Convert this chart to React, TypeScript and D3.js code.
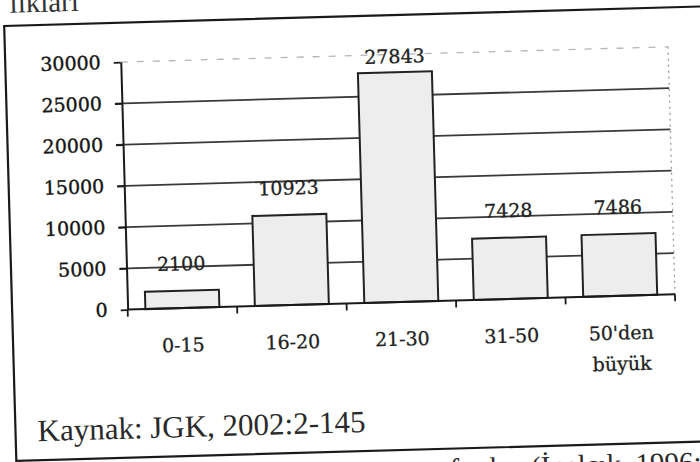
import React, { useEffect, useRef } from 'react';
import * as d3 from 'd3';

// values
const categories = ['0-15', '16-20', '21-30', '31-50', "50'den büyük"];
const counts = [2100, 10923, 27843, 7428, 7486];
const yTicks = [0, 5000, 10000, 15000, 20000, 25000, 30000];
const titleFragment = 'lıkları';
const sourceNote = 'Kaynak: JGK, 2002:2-145';
const nextLine = 'tarafından (İnalcık, 1996:';

const serif = "'DejaVu Serif', serif";
const times = "'Liberation Serif', 'Times New Roman', serif";

export default function App() {
  const ref = useRef<SVGSVGElement>(null);

  useEffect(() => {
    const svg = d3.select(ref.current);
    svg.selectAll('*').remove();

    // the scan is slightly tilted
    const page = svg.append('g').attr('transform', 'rotate(-1.6, 400, 300)');

    page.append('text')
      .attr('x', 18).attr('y', 2)
      .attr('font-family', times).attr('font-size', 29).attr('fill', '#333')
      .text(titleFragment);

    page.append('rect')
      .attr('x', 12).attr('y', 15).attr('width', 730).attr('height', 435)
      .attr('fill', 'none').attr('stroke', '#1a1a1a').attr('stroke-width', 2.2);

    const margin = { left: 127.5, top: 54.4 },
      width = 547.5,
      height = 247.6;

    const g = page.append('g').attr('transform', `translate(${margin.left}, ${margin.top})`);

    const x = d3.scaleBand().domain(categories).range([0, width]).paddingInner(0.324).paddingOuter(0.162);
    const y = d3.scaleLinear().domain([0, 30000]).range([height, 0]);

    // gridlines
    g.selectAll('.grid').data(yTicks.filter((t) => t > 0 && t < 30000)).enter().append('line')
      .attr('x1', -7).attr('x2', width)
      .attr('y1', (d) => y(d)).attr('y2', (d) => y(d))
      .attr('stroke', '#3a3a3a').attr('stroke-width', 1.8);

    // faint plot-area border
    g.append('line')
      .attr('x1', 0).attr('x2', width).attr('y1', y(30000)).attr('y2', y(30000))
      .attr('stroke', '#b5b5b5').attr('stroke-width', 1.3).attr('stroke-dasharray', '7,9');
    g.append('line')
      .attr('x1', width).attr('x2', width).attr('y1', y(30000)).attr('y2', height)
      .attr('stroke', '#999').attr('stroke-width', 1.3).attr('stroke-dasharray', '2,4');

    // bars
    g.selectAll('.bar').data(counts).enter().append('rect')
      .attr('x', (d, i) => x(categories[i]) as number)
      .attr('y', (d) => y(d))
      .attr('width', x.bandwidth())
      .attr('height', (d) => height - y(d))
      .attr('fill', '#ededed').attr('stroke', '#222').attr('stroke-width', 2);

    // value labels
    g.selectAll('.val').data(counts).enter().append('text')
      .attr('x', (d, i) => (x(categories[i]) as number) + x.bandwidth() / 2)
      .attr('y', (d) => Math.max(y(d) - 27, y(30000) + 2))
      .attr('dy', '0.35em')
      .attr('text-anchor', 'middle')
      .attr('font-family', serif).attr('font-size', 19).attr('fill', '#222')
      .attr('stroke', '#222').attr('stroke-width', 0.3)
      .text((d) => String(d));

    // y axis
    const yAxis = g.append('g').call(
      d3.axisLeft(y).tickValues(yTicks).tickSize(7).tickSizeOuter(0).tickPadding(13).tickFormat(d3.format('d'))
    );
    yAxis.select('.domain').attr('stroke', '#1a1a1a').attr('stroke-width', 2);
    yAxis.selectAll('.tick line').attr('stroke', '#1a1a1a').attr('stroke-width', 1.8);
    yAxis.selectAll('.tick text')
      .attr('font-family', serif).attr('font-size', 19).attr('fill', '#151515')
      .attr('stroke', '#151515').attr('stroke-width', 0.4);

    // x axis with ticks between the categories
    g.append('line')
      .attr('x1', 0).attr('x2', width).attr('y1', height).attr('y2', height)
      .attr('stroke', '#1a1a1a').attr('stroke-width', 2);
    g.selectAll('.xtick').data(d3.range(categories.length + 1)).enter().append('line')
      .attr('x1', (i) => i * x.step()).attr('x2', (i) => i * x.step())
      .attr('y1', height).attr('y2', height + 7)
      .attr('stroke', '#1a1a1a').attr('stroke-width', 1.8);

    const cat = g.selectAll('.cat').data(categories).enter().append('text')
      .attr('x', (d) => (x(d) as number) + x.bandwidth() / 2)
      .attr('y', height + 37)
      .attr('text-anchor', 'middle')
      .attr('font-family', serif).attr('font-size', 19).attr('fill', '#222')
      .attr('stroke', '#222').attr('stroke-width', 0.3);
    cat.each(function (d) {
      const words = d.indexOf(' ') > 0 ? d.split(' ') : [d];
      const t = d3.select(this);
      words.forEach((w, k) => {
        t.append('tspan')
          .attr('x', t.attr('x'))
          .attr('dy', k === 0 ? '0.35em' : 31)
          .text(w);
      });
    });

    page.append('text')
      .attr('x', 34).attr('y', 431)
      .attr('font-family', times).attr('font-size', 31).attr('fill', '#2a2a2a')
      .text(sourceNote);

    page.append('text')
      .attr('x', 697).attr('y', 480).attr('text-anchor', 'end')
      .attr('font-family', times).attr('font-size', 29).attr('fill', '#2a2a2a')
      .text(nextLine);
  }, []);

  return (
    <svg
      ref={ref}
      width={700}
      height={462}
      style={{ position: 'absolute', left: 0, top: 0, background: '#fff' }}
    />
  );
}
